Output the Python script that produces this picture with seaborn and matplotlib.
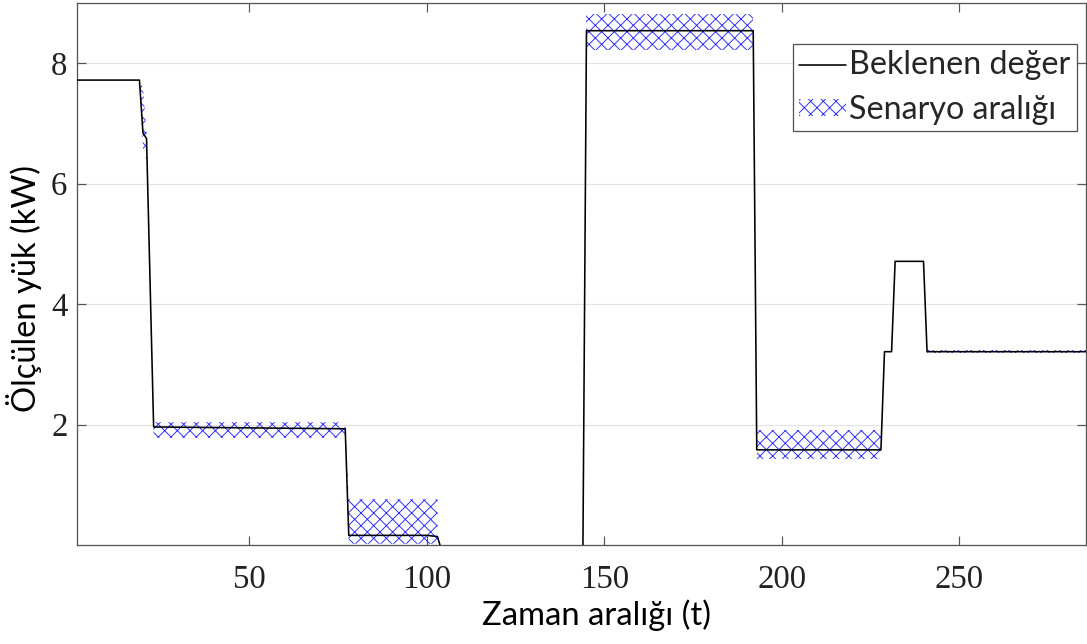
import numpy as np
import matplotlib
matplotlib.use("Agg")
import matplotlib.pyplot as plt
from matplotlib.lines import Line2D
from matplotlib.patches import Patch
import seaborn as sns

# ---- data ----
# expected value line: vertices (time step, kW); values below 0 lie under the axis
line_t = [1, 19, 20, 21, 23, 77, 78, 100, 103, 104, 144, 145, 192, 193, 228, 229, 231, 232, 240, 241, 286]
line_y = [7.72, 7.72, 6.84, 6.75, 1.96, 1.93, 0.16, 0.16, 0.14, -0.06, -0.06, 8.54, 8.54, 1.58, 1.58, 3.21, 3.21, 4.71, 4.71, 3.21, 3.21]

# scenario range band (NaN = no band)
band_t  = [19, 20, 21, 23, 77, 78, 103, 104, 144, 145, 192, 192.5, 193, 228, 228.5, 241, 286]
band_lo = [7.72, 6.55, 6.40, 1.78, 1.78, 0.02, 0.02, np.nan, np.nan, 8.22, 8.22, np.nan, 1.43, 1.43, np.nan, 3.18, 3.18]
band_hi = [7.72, 7.60, 6.85, 2.04, 2.04, 0.76, 0.76, np.nan, np.nan, 8.82, 8.82, np.nan, 1.91, 1.91, np.nan, 3.24, 3.24]

x_ticks = [50, 100, 150, 200, 250]
y_ticks = [2, 4, 6, 8]
x_label = "Zaman aralığı (t)"
y_label = "Ölçülen yük (kW)"
legend_labels = ["Beklenen değer", "Senaryo aralığı"]

# ---- style ----
DPI = 76
W, H = 1087, 644
sns.set_theme(style="ticks")
plt.rcParams["font.family"] = ["Lato", "DejaVu Sans"]
plt.rcParams["hatch.linewidth"] = 0.9

px = 72.0 / DPI  # points per pixel

fig, ax = plt.subplots(figsize=(W / DPI, H / DPI), dpi=DPI)
fig.subplots_adjust(left=77 / W, right=1086 / W, top=1 - 3 / H, bottom=1 - 545 / H)

hatch_color = "#2d2dff"
ax.fill_between(band_t, band_lo, band_hi, facecolor="none", edgecolor=hatch_color,
                linewidth=0, hatch="xx", zorder=2)
sns.lineplot(x=line_t, y=line_y, ax=ax, color="black", linewidth=1.6 * px,
             sort=False, estimator=None, zorder=3)

ax.set_xlim(1.4, 285.8)
ax.set_ylim(0, 9)
ax.set_xticks(x_ticks)
ax.set_yticks(y_ticks)
ax.grid(axis="y", color="#e3e3e3", linewidth=1.2 * px)
ax.set_axisbelow(True)

for s in ax.spines.values():
    s.set_visible(True)
    s.set_color("#555555")
    s.set_linewidth(1.3 * px)

ax.tick_params(axis="both", direction="in", length=9 * px, width=1.2 * px, color="#555555",
               top=True, right=True, labelsize=31, labelcolor="#222222")
ax.tick_params(axis="x", pad=18)
ax.tick_params(axis="y", pad=9)
for lab in ax.get_xticklabels() + ax.get_yticklabels():
    lab.set_family(["Liberation Serif", "DejaVu Serif"])

ax.set_xlabel(x_label, fontsize=31, color="black")
ax.set_ylabel(y_label, fontsize=31, color="black")
ax.xaxis.set_label_coords((596 - 77) / 1009, -(599 - 545) / 542)
ax.yaxis.set_label_coords((42 - 77) / 1009, (545 - 288) / 542)

handles = [
    Line2D([0], [0], color="black", linewidth=1.6 * px),
    Patch(facecolor="none", edgecolor=hatch_color, linewidth=0, hatch="xx"),
]
leg = ax.legend(handles, legend_labels, loc="upper right",
                bbox_to_anchor=((1077 - 77) / (1086 - 77), (545 - 44) / (545 - 3)),
                borderaxespad=0, fontsize=30.5, frameon=True, fancybox=False,
                handlelength=1.45, handletextpad=0.1, labelspacing=0.45,
                borderpad=0.2, handleheight=0.4)
leg.get_frame().set_edgecolor("#555555")
leg.get_frame().set_linewidth(1.3 * px)
leg.get_frame().set_alpha(1)

fig.savefig("out.png", dpi=DPI)
